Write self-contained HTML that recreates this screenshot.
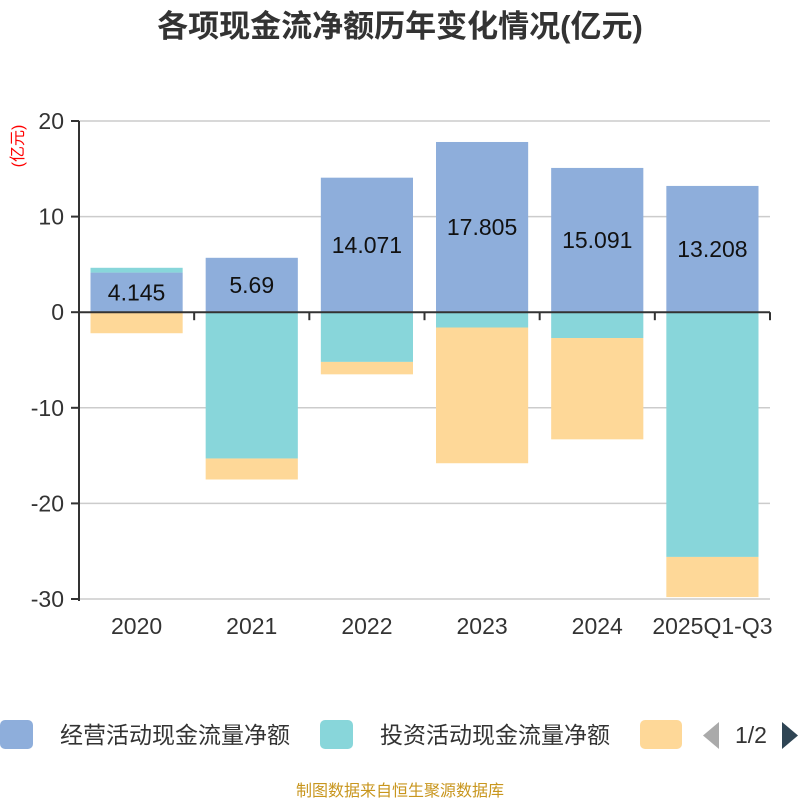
<!DOCTYPE html>
<html><head><meta charset="utf-8"><style>
body{margin:0;width:800px;height:800px;background:#fff;overflow:hidden;font-family:"Liberation Sans","Noto Sans CJK SC",sans-serif}
</style></head><body>
<svg width="800" height="800" xmlns="http://www.w3.org/2000/svg">
<text x="400" y="37" text-anchor="middle" font-size="31" font-weight="bold" fill="#333" font-family="Liberation Sans, Noto Sans CJK SC, sans-serif">各项现金流净额历年变化情况(亿元)</text>
<text transform="translate(23,146) rotate(-90)" text-anchor="middle" font-size="16" fill="#f00" font-family="Liberation Sans, Noto Sans CJK SC, sans-serif">(亿元)</text>
<g id="grid"></g><g id="bars"></g><g id="axes"></g>
<g font-family="Liberation Sans, Noto Sans CJK SC, sans-serif" font-size="23" fill="#333">
<rect x="0" y="720" width="33" height="29" rx="5" fill="#8eaedb"/>
<text x="60" y="743">经营活动现金流量净额</text>
<rect x="320" y="720" width="33" height="29" rx="5" fill="#88d6da"/>
<text x="380" y="743">投资活动现金流量净额</text>
<rect x="640" y="720" width="42" height="29" rx="5" fill="#fed898"/>
<polygon points="719,722 719,749 703,735.5" fill="#aaa"/>
<text x="751" y="743" text-anchor="middle" font-size="23">1/2</text>
<polygon points="782,722 782,749 798,735.5" fill="#2f4554"/>
</g>
<text x="400" y="796" text-anchor="middle" font-size="16" fill="#c8961e" font-family="Liberation Sans, Noto Sans CJK SC, sans-serif">制图数据来自恒生聚源数据库</text>
</svg>
<script>
const categories=["2020","2021","2022","2023","2024","2025Q1-Q3"];
const operating=[4.145,5.69,14.071,17.805,15.091,13.208];
const investing=[0.5,-15.3,-5.2,-1.6,-2.7,-25.6];
const financing=[-2.2,-2.2,-1.3,-14.2,-10.6,-4.2];
const yTicks=[20,10,0,-10,-20,-30];
const NS="http://www.w3.org/2000/svg";
const x0=79,x1=770,yTop=121,yBot=599,vMax=20,vMin=-30;
const yS=v=>yTop+(vMax-v)/(vMax-vMin)*(yBot-yTop);
const band=(x1-x0)/categories.length;
function mk(tag,attrs,parent){const e=document.createElementNS(NS,tag);for(const k in attrs)e.setAttribute(k,attrs[k]);parent.appendChild(e);return e;}
const grid=document.getElementById('grid'),bars=document.getElementById('bars'),axes=document.getElementById('axes');
yTicks.forEach(t=>{
  const y=yS(t);
  if(t!==0){const l=mk('line',{x1:x0,x2:x1,y1:y,y2:y,stroke:'#ccc','stroke-width':1.5},grid);
  
  }
  mk('line',{x1:x0-8,x2:x0,y1:y,y2:y,stroke:'#333','stroke-width':2},axes);
  const tx=mk('text',{x:x0-15,y:y+8,'text-anchor':'end','font-size':23,fill:'#333','font-family':'Liberation Sans, sans-serif'},axes);
  tx.textContent=t;
  
  
});
const cols=['#8eaedb','#88d6da','#fed898'];
categories.forEach((c,i)=>{
  const bx=x0+band*i+11.5,bw=band-23;
  let pos=0,neg=0;
  [operating[i],investing[i],financing[i]].forEach((v,s)=>{
    let a,b;
    if(v>=0){a=pos;b=pos+v;pos=b;}else{a=neg;b=neg+v;neg=b;}
    const ya=yS(a),yb=yS(b);
    const r=mk('rect',{x:bx,y:Math.min(ya,yb),width:bw,height:Math.abs(ya-yb),fill:cols[s]},bars);
    
    
  });
  const lb=mk('text',{x:bx+bw/2,y:(yS(0)+yS(operating[i]))/2+8,'text-anchor':'middle','font-size':23,fill:'#111','font-family':'Liberation Sans, sans-serif'},bars);
  lb.textContent=operating[i];
  
  
  const xl=mk('text',{x:x0+band*(i+0.5),y:634,'text-anchor':'middle','font-size':23,fill:'#333','font-family':'Liberation Sans, sans-serif'},axes);
  xl.textContent=c;
  
  
  mk('line',{x1:x0+band*(i+1),x2:x0+band*(i+1),y1:yS(0),y2:yS(0)+8,stroke:'#333','stroke-width':2},axes);
});
const ya=mk('line',{x1:x0,x2:x0,y1:yTop,y2:yBot+2,stroke:'#333','stroke-width':2},axes);


const xa=mk('line',{x1:x0,x2:x1,y1:yS(0),y2:yS(0),stroke:'#333','stroke-width':2},axes);


</script>
</body></html>
